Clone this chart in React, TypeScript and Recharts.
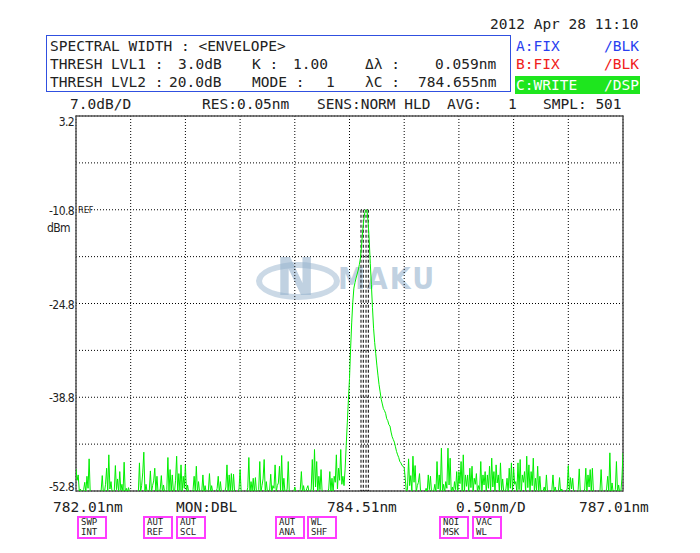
import React from "react";
import {
  CartesianGrid,
  Line,
  LineChart,
  ReferenceArea,
  ReferenceLine,
  XAxis,
  YAxis,
} from "recharts";

// sampling grid of the trace (nm), 501 samples
const START_NM = 782.01;
const STOP_NM = 787.01;
const STEP_NM = 0.01;

const xTicks = [782.01, 782.51, 783.01, 783.51, 784.01, 784.51, 785.01, 785.51, 786.01, 786.51, 787.01];
const yTicks = [3.2, -3.8, -10.8, -17.8, -24.8, -31.8, -38.8, -45.8, -52.8];
const yLabels = ["3.2", "", "-10.8", "", "-24.8", "", "-38.8", "", "-52.8"];

// trace C, dBm (782.01 .. 784.45 nm)
const noiseLeft = [
  -49.5, -51.2, -50.4, -52.8, -52.5, -53, -53, -52.6, -51.5, -53,
  -50.6, -52.4, -48, -53, -53, -53, -53, -53, -53, -53,
  -53, -53, -53, -52.7, -50.5, -53, -53, -51.8, -49.4, -52.9,
  -47.4, -52.5, -51.4, -53, -53, -52.8, -49, -52.6, -51, -53,
  -49.9, -52.7, -51.8, -53, -48.5, -53, -52.4, -53, -52.3, -53,
  -53, -53, -53, -53, -53, -53, -53, -53, -48.6, -53,
  -52, -50.1, -47, -52.9, -51.8, -53, -53, -52.7, -49.8, -53,
  -52, -51.3, -49.4, -52.8, -50.6, -53, -53, -52.5, -50.5, -53,
  -51.9, -53, -53, -52.6, -47.8, -52.9, -49.6, -53, -50.4, -52.8,
  -53, -51.2, -47.6, -53, -50.2, -52.7, -48.9, -53, -50.6, -52.4,
  -48.9, -53, -51.9, -53, -53, -53, -53, -52.6, -50.6, -52.9,
  -49.1, -53, -51.4, -53, -53, -52.8, -50.4, -53, -52, -53,
  -53, -52.7, -50.2, -53, -52, -53, -53, -53, -53, -52.4,
  -50.6, -53, -51.4, -53, -53, -53, -53, -52.2, -48.9, -53,
  -50.4, -52.9, -50.2, -53, -50.3, -53, -53, -53, -53, -52.5,
  -49.6, -53, -53, -53, -53, -53, -53, -52.3, -47.8, -53,
  -51.4, -52.8, -50.9, -53, -50.8, -53, -53, -52.6, -48.4, -53,
  -52, -51, -48.1, -53, -51.4, -53, -53, -52.7, -50.3, -53,
  -52, -52.4, -48.9, -53, -52, -51.6, -49.1, -52.8, -47.5, -53,
  -50.9, -53, -53, -52.5, -48.4, -53, -53, -53, -53, -53,
  -52.2, -53, -53, -53, -53, -52.6, -49.9, -53, -52, -53,
  -53, -52.4, -52, -53, -53, -52.5, -48.1, -52.9, -46.6, -52.2,
  -48.4, -53, -50.6, -52.6, -49.6, -53, -53, -53, -53, -53,
  -53, -52.5, -49.9, -52.8, -50.9, -53, -50.6, -51.5, -47.4, -52.5,
  -49.4, -51.2, -46.6, -51.8, -50.6,
];
// 784.46 .. 785.02 nm
const peakTrace = [
  -52, -49.5, -46, -42.6, -39.2, -36, -31.5, -27.7, -24.6, -22.5,
  -21.7, -21, -20.4, -19.8, -19, -18, -16.2, -14, -12.4, -11.2,
  -10.8, -10.9, -12.6, -15.3, -18.8, -22, -25.4, -28.5, -30.6, -32.3,
  -34, -35.5, -36.9, -38, -39.1, -39.8, -40.5, -40.8, -41.2, -42,
  -42.3, -42.9, -43.1, -44, -44.7, -45.1, -45.5, -46.2, -46.9, -47.4,
  -47.8, -48.4, -48.6, -49, -49.1, -49.3, -51,
];
// 785.03 .. 787.01 nm
const noiseRight = [
  -53, -52.5, -48, -52, -50.5, -52.8, -47.6, -51.5, -49, -53,
  -52, -51.5, -50.2, -53, -53, -53, -53, -53, -52.4, -53,
  -50.4, -52.6, -50.6, -53, -53, -52.8, -51.8, -53, -48.4, -52.5,
  -50.4, -52.9, -46.4, -53, -51.8, -53, -51.4, -52.4, -46.4, -51.9,
  -47.9, -53, -52.2, -53, -51.4, -52.6, -49.9, -53, -49.9, -51.7,
  -48.4, -52.8, -47.4, -53, -50.4, -52.1, -50.4, -53, -49.4, -52.3,
  -49.1, -53, -50.9, -51.8, -50.2, -53, -52, -52.6, -48.4, -53,
  -50.4, -51.9, -49.9, -53, -50.4, -52.4, -49.1, -53, -47.9, -52.2,
  -49.9, -53, -48.9, -51.6, -50.4, -53, -48.6, -52.7, -51, -53,
  -53, -52.5, -50.9, -53, -49.4, -52.4, -48.6, -53, -49.4, -51.8,
  -51.4, -53, -48.6, -52.6, -48.1, -53, -50.4, -51.5, -49.9, -53,
  -47.6, -52.3, -48.9, -53, -49.9, -52, -47.9, -53, -50.9, -52.7,
  -49.1, -53, -50.6, -53, -53, -52.8, -52.2, -53, -50.4, -53,
  -53, -53, -53, -52.6, -50.4, -53, -52.2, -53, -53, -52.7,
  -50.8, -53, -52.5, -53, -53, -53, -53, -52.4, -49, -53,
  -50.8, -52.5, -50.9, -53, -53, -53, -53, -52.6, -49.5, -53,
  -53, -53, -53, -52.5, -49.4, -53, -50.4, -52.2, -49.6, -53,
  -49.4, -53, -53, -53, -53, -53, -53, -52.7, -49.6, -53,
  -53, -53, -53, -52.5, -50.6, -52.8, -47.1, -53, -51.6, -53,
  -53, -52.6, -48.4, -53, -51.9, -53, -53, -51, -47.1,
];

// spectral width markers (nm)
const markerNm = [784.615, 784.636, 784.661, 784.682];

const trace = [...noiseLeft, ...peakTrace, ...noiseRight].map((dbm, i) => ({
  nm: Math.round((START_NM + i * STEP_NM) * 1000) / 1000,
  dbm,
}));

const MONO = '"DejaVu Sans Mono", "Liberation Mono", monospace';
const NARROW = '"DejaVu Sans Condensed", "Liberation Sans Narrow", sans-serif';

function Txt({ x, y, size = 14.5, color = "#222", children, style }: any) {
  return (
    <div
      style={{
        position: "absolute",
        left: x,
        top: y - size / 2,
        fontSize: size,
        lineHeight: `${size}px`,
        color,
        whiteSpace: "pre",
        fontFamily: MONO,
        ...style,
      }}
    >
      {children}
    </div>
  );
}

function Btn({ x, top, a, b }: { x: number; top: number; a: string; b: string }) {
  return (
    <div
      style={{
        position: "absolute",
        left: x,
        top,
        width: 30,
        height: 23,
        boxSizing: "border-box",
        border: "2px solid #ff3cff",
        fontFamily: MONO,
        fontSize: 9,
        lineHeight: "9.5px",
        color: "#222",
        padding: "0 0 0 2px",
        whiteSpace: "pre",
      }}
    >
      {a}
      <br />
      {b}
    </div>
  );
}

function EmptyTick() {
  return <g />;
}

function YTick(props: any) {
  const { x, y, payload } = props;
  const idx = yTicks.indexOf(payload.value);
  const label = yLabels[idx];
  if (!label) return <g />;
  const dy = idx === 0 ? 6 : idx === yTicks.length - 1 ? -4 : 1;
  return (
    <text
      x={x}
      y={y + dy}
      textAnchor="end"
      dominantBaseline="central"
      fontSize={12}
      fontFamily={NARROW}
      letterSpacing={-0.6}
      fill="#222"
    >
      {label}
    </text>
  );
}

export default function App() {
  return (
    <div
      style={{
        position: "absolute",
        left: 0,
        top: 0,
        width: 700,
        height: 553,
        background: "#fff",
        overflow: "hidden",
      }}
    >
      {/* watermark */}
      <div
        style={{
          position: "absolute",
          left: 256,
          top: 262,
          width: 72,
          height: 26,
          borderRadius: "50%",
          border: "6px solid rgba(160,185,210,0.55)",
        }}
      />
      <Txt x={276} y={277} size={52} color="rgba(150,178,205,0.6)" style={{ fontFamily: NARROW, fontWeight: 700 }}>
        N
      </Txt>
      <Txt x={338} y={279} size={30} color="rgba(150,178,205,0.6)" style={{ fontFamily: NARROW, fontWeight: 700, letterSpacing: 2 }}>
        MAKU
      </Txt>

      <div style={{ position: "absolute", left: 0, top: 0 }}>
        <LineChart
          width={700}
          height={553}
          data={trace}
          margin={{ top: 116, right: 77, bottom: 61, left: 75 }}
        >
          <CartesianGrid stroke="#000" strokeDasharray="1 2" />
          <XAxis
            type="number"
            dataKey="nm"
            domain={[START_NM, STOP_NM]}
            ticks={xTicks}
            height={1}
            tick={<EmptyTick />}
            tickLine={false}
            axisLine={false}
            allowDataOverflow
          />
          <YAxis
            type="number"
            domain={[-52.8, 3.2]}
            ticks={yTicks}
            width={1}
            tickSize={0}
            tickMargin={2}
            tickLine={false}
            axisLine={false}
            tick={<YTick />}
            allowDataOverflow
          />
          {markerNm.map((nm) => (
            <ReferenceLine
              key={nm}
              segment={[
                { x: nm, y: -10.8 },
                { x: nm, y: -52.8 },
              ]}
              stroke="#000"
              strokeDasharray="3 2"
            />
          ))}
          <Line
            dataKey="dbm"
            type="linear"
            stroke="#00ee00"
            strokeWidth={1}
            dot={false}
            isAnimationActive={false}
          />
          <ReferenceArea
            x1={START_NM}
            x2={STOP_NM}
            y1={-52.8}
            y2={3.2}
            fill="none"
            stroke="#555"
            strokeWidth={1.5}
            ifOverflow="visible"
          />
        </LineChart>
      </div>

      {/* date */}
      <Txt x={490} y={24}>2012 Apr 28 11:10</Txt>

      {/* analysis box */}
      <div
        style={{
          position: "absolute",
          left: 46,
          top: 35,
          width: 463,
          height: 55,
          border: "1.5px solid #3050e0",
        }}
      />
      <Txt x={50} y={46}>SPECTRAL WIDTH : &lt;ENVELOPE&gt;</Txt>
      <Txt x={50} y={64}>THRESH LVL1 :</Txt>
      <Txt x={178} y={64}>3.0dB</Txt>
      <Txt x={252} y={64}>K :</Txt>
      <Txt x={293} y={64}>1.00</Txt>
      <Txt x={365} y={64}>Δλ :</Txt>
      <Txt x={435} y={64}>0.059nm</Txt>
      <Txt x={50} y={82}>THRESH LVL2 :</Txt>
      <Txt x={169} y={82}>20.0dB</Txt>
      <Txt x={252} y={82}>MODE :</Txt>
      <Txt x={326} y={82}>1</Txt>
      <Txt x={365} y={82}>λC :</Txt>
      <Txt x={418} y={82}>784.655nm</Txt>

      {/* trace status */}
      <Txt x={516} y={46} color="#2a3ff0">A:FIX</Txt>
      <Txt x={604} y={46} color="#2a3ff0">/BLK</Txt>
      <Txt x={516} y={64} color="#f02020">B:FIX</Txt>
      <Txt x={604} y={64} color="#f02020">/BLK</Txt>
      <div style={{ position: "absolute", left: 515, top: 76, width: 125, height: 18, background: "#1ee61e" }} />
      <Txt x={516} y={85} color="#fff">C:WRITE</Txt>
      <Txt x={604} y={85} color="#fff">/DSP</Txt>

      {/* settings row */}
      <Txt x={70} y={104}>7.0dB/D</Txt>
      <Txt x={202} y={104}>RES:0.05nm</Txt>
      <Txt x={317} y={104}>SENS:NORM HLD</Txt>
      <Txt x={447} y={104}>AVG:</Txt>
      <Txt x={508} y={104}>1</Txt>
      <Txt x={543} y={104}>SMPL: 501</Txt>

      {/* y extras */}
      <Txt x={78} y={210} size={9} style={{ fontFamily: NARROW }}>REF</Txt>
      <Txt x={47} y={228} size={12} style={{ fontFamily: NARROW, letterSpacing: -0.6 }}>dBm</Txt>

      {/* x labels */}
      <Txt x={53} y={507}>782.01nm</Txt>
      <Txt x={176} y={507}>MON:DBL</Txt>
      <Txt x={327} y={507}>784.51nm</Txt>
      <Txt x={456} y={507}>0.50nm/D</Txt>
      <Txt x={579} y={507}>787.01nm</Txt>

      {/* soft keys */}
      <Btn x={77} top={516} a="SWP" b="INT" />
      <Btn x={143} top={516} a="AUT" b="REF" />
      <Btn x={176} top={516} a="AUT" b="SCL" />
      <Btn x={275} top={516} a="AUT" b="ANA" />
      <Btn x={307} top={516} a="WL" b="SHF" />
      <Btn x={439} top={516} a="NOI" b="MSK" />
      <Btn x={472} top={516} a="VAC" b="WL" />
    </div>
  );
}
